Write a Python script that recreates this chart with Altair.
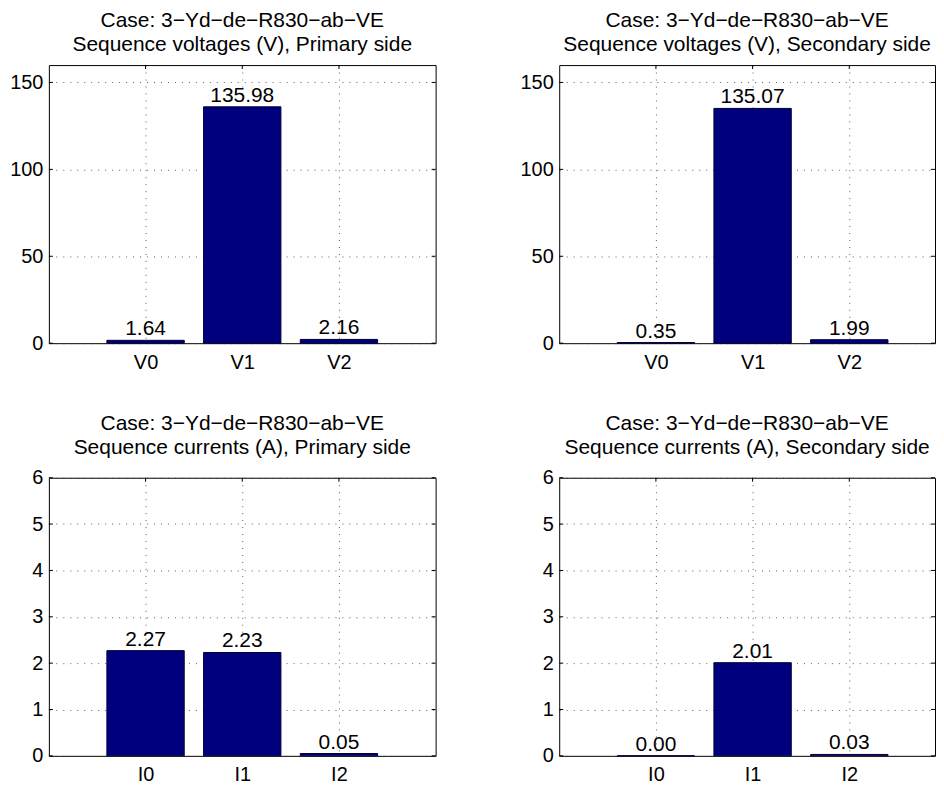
import altair as alt
import pandas as pd

# ---- data ----
case_line = "Case: 3\u2212Yd\u2212de\u2212R830\u2212ab\u2212VE"
voltage_names = ["V0", "V1", "V2"]
current_names = ["I0", "I1", "I2"]
v_primary = [1.64, 135.98, 2.16]
v_secondary = [0.35, 135.07, 1.99]
i_primary = [2.27, 2.23, 0.05]
i_secondary = [0.00, 2.01, 0.03]
subtitles = [
    "Sequence voltages (V), Primary side",
    "Sequence voltages (V), Secondary side",
    "Sequence currents (A), Primary side",
    "Sequence currents (A), Secondary side",
]
v_ticks = [0, 50, 100, 150]
i_ticks = [0, 1, 2, 3, 4, 5, 6]

FONT = "Liberation Sans"
BAR_FILL = "#00007F"
LEFT_W = 388
RIGHT_W = 377
PANEL_H = 279
TICK_LEN = 4


def panel(names, values, subtitle, ymax, yticks, width, xmax):
    positions = list(range(1, len(names) + 1))
    df = pd.DataFrame({"pos": positions, "name": names, "value": values})
    df_y = pd.DataFrame({"t": yticks})
    df_x = pd.DataFrame({"p": positions})
    label_expr = "[" + ",".join("'" + n + "'" for n in [""] + names) + "][datum.value]"
    xscale = alt.Scale(domain=[0, xmax], nice=False, zero=False)
    yscale = alt.Scale(domain=[0, ymax], nice=False)
    xaxis = alt.Axis(values=positions, labelExpr=label_expr, title=None,
                     grid=True, ticks=False, domain=False, labelPadding=9,
                     minExtent=26, maxExtent=26)
    yaxis = alt.Axis(values=yticks, title=None, grid=True, ticks=False, domain=False,
                     labelPadding=6, minExtent=40, maxExtent=40)
    base = alt.Chart(df).transform_calculate(lo="datum.pos - 0.4", hi="datum.pos + 0.4")
    bars = base.mark_bar(color=BAR_FILL, stroke="#000033", strokeWidth=1).encode(
        x=alt.X("lo:Q", scale=xscale, axis=xaxis),
        x2="hi:Q",
        y=alt.Y("value:Q", scale=yscale, axis=yaxis),
        y2=alt.datum(0),
    )
    text = base.mark_text(font=FONT, fontSize=21, baseline="alphabetic", dy=-5, color="black").encode(
        x=alt.X("pos:Q", scale=xscale, axis=xaxis),
        y=alt.Y("value:Q", scale=yscale, axis=yaxis),
        text=alt.Text("value:Q", format=".2f"),
    )
    ytick_l = alt.Chart(df_y).mark_rule(color="black", strokeWidth=1).encode(
        y=alt.Y("t:Q", scale=yscale, axis=yaxis), x=alt.value(0), x2=alt.value(TICK_LEN))
    ytick_r = alt.Chart(df_y).mark_rule(color="black", strokeWidth=1).encode(
        y=alt.Y("t:Q", scale=yscale, axis=yaxis), x=alt.value(width - TICK_LEN), x2=alt.value(width))
    xtick_t = alt.Chart(df_x).mark_rule(color="black", strokeWidth=1).encode(
        x=alt.X("p:Q", scale=xscale, axis=xaxis), y=alt.value(0), y2=alt.value(TICK_LEN))
    return alt.layer(bars, ytick_l, ytick_r, xtick_t, text).properties(
        width=width,
        height=PANEL_H,
        title=alt.TitleParams(text=[case_line, subtitle], fontSize=21, font=FONT,
                              fontWeight="normal", lineHeight=24, offset=10,
                              anchor="middle", color="black"),
    )


x_right = RIGHT_W / (LEFT_W / 4.0)
p1 = panel(voltage_names, v_primary, subtitles[0], 160, v_ticks, LEFT_W, 4)
p2 = panel(voltage_names, v_secondary, subtitles[1], 160, v_ticks, RIGHT_W, x_right)
p3 = panel(current_names, i_primary, subtitles[2], 6, i_ticks, LEFT_W, 4)
p4 = panel(current_names, i_secondary, subtitles[3], 6, i_ticks, RIGHT_W, x_right)

chart = alt.vconcat(
    alt.hconcat(p1, p2, spacing=82),
    alt.hconcat(p3, p4, spacing=82),
    spacing=39,
).properties(
    padding={"left": 0, "top": 0, "right": 0, "bottom": 0},
    background="white",
).configure_view(
    stroke="black", strokeWidth=1
).configure_axis(
    labelFont=FONT, labelFontSize=20, labelColor="black",
    gridColor="#333333", gridDash=[1, 6], gridWidth=1, gridOpacity=0.8,
)

chart.save("out.html", embed_options={"renderer": "svg", "actions": False})
